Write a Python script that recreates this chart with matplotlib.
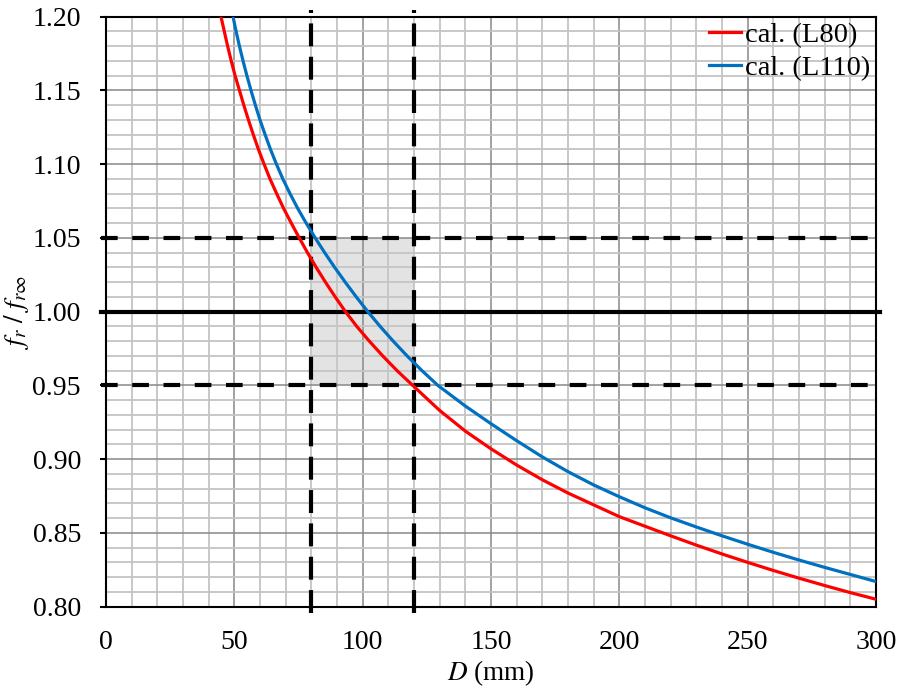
import numpy as np
import matplotlib
matplotlib.use("Agg")
import matplotlib.pyplot as plt
from matplotlib.ticker import MultipleLocator, FormatStrFormatter

plt.rcParams['font.family'] = ['Liberation Serif', 'DejaVu Serif']
plt.rcParams['mathtext.fontset'] = 'stix'

# curva calculada L80
d_l80 = [44.8, 46.1, 47.4, 48.8, 50.3, 52.0, 53.7, 55.5, 57.4, 59.4, 61.6,
         63.9, 66.5, 69.2, 72.2, 75.3, 78.5, 81.9, 85.5, 89.3, 93.3,
         97.7, 102.6, 107.8, 113.4, 119.5, 130.0, 140.0, 150.0, 160.0, 170.0,
         180.0, 190.0, 200.0, 210.0, 220.0, 230.0, 240.0, 250.0, 260.0, 270.0,
         280.0, 290.0, 300.0]
f_l80 = [1.20, 1.19, 1.18, 1.17, 1.16, 1.15, 1.14, 1.13, 1.12, 1.11, 1.10,
         1.09, 1.08, 1.07, 1.06, 1.05, 1.04, 1.03, 1.02, 1.01, 1.00,
         0.99, 0.98, 0.97, 0.96, 0.95, 0.933, 0.919, 0.907, 0.896, 0.886,
         0.877, 0.869, 0.861, 0.8545, 0.848, 0.8417, 0.8357, 0.830, 0.8245, 0.8193,
         0.8143, 0.8095, 0.805]

# curva calculada L110
d_l110 = [49.5, 50.7, 52.0, 53.4, 54.9, 56.5, 58.2, 60.0, 62.0, 64.1, 66.4,
          68.9, 71.7, 74.7, 78.0, 81.5, 85.2, 89.1, 93.2, 97.5, 102.0,
          106.8, 111.9, 117.3, 123.1, 129.3, 140.0, 150.0, 160.0, 170.0, 180.0,
          190.0, 200.0, 210.0, 220.0, 230.0, 240.0, 250.0, 260.0, 270.0, 280.0,
          290.0, 300.0]
f_l110 = [1.20, 1.19, 1.18, 1.17, 1.16, 1.15, 1.14, 1.13, 1.12, 1.11, 1.10,
          1.09, 1.08, 1.07, 1.06, 1.05, 1.04, 1.03, 1.02, 1.01, 1.00,
          0.99, 0.98, 0.97, 0.96, 0.95, 0.936, 0.924, 0.9125, 0.9015, 0.8915,
          0.8825, 0.8745, 0.867, 0.8602, 0.854, 0.848, 0.8423, 0.8368, 0.8316, 0.8266,
          0.8218, 0.817]

# zona de tolerancia
d_band = [80, 120]
f_band = [0.95, 1.05]
f_ref = 1.00

fig = plt.figure(figsize=(8.98, 6.87), dpi=100)
ax = fig.add_axes([0.118, 0.117, 0.8575, 0.8588])
ax.set_xlim(0, 300)
ax.set_ylim(0.80, 1.20)

ax.xaxis.set_major_locator(MultipleLocator(50))
ax.xaxis.set_minor_locator(MultipleLocator(10))
ax.yaxis.set_major_locator(MultipleLocator(0.05))
ax.yaxis.set_minor_locator(MultipleLocator(0.01))
ax.yaxis.set_major_formatter(FormatStrFormatter('%.2f'))

ax.set_axisbelow(True)
ax.grid(which='minor', color='#c4c4c4', lw=1.3)
ax.grid(which='major', color='#888888', lw=1.1)

ax.tick_params(axis='both', which='minor', length=0)
ax.tick_params(axis='x', which='major', length=0, pad=17, labelsize=20)
ax.tick_params(axis='y', which='major', length=4, width=1.5, direction='out', pad=14, labelsize=20)

for s in ax.spines.values():
    s.set_color('black')
    s.set_linewidth(1.5)

# sombreado
ax.fill_between(d_band, f_band[0], f_band[1], color='#e3e3e3', zorder=0.3, lw=0)

# lineas de referencia
for fb in f_band:
    ax.plot([-2, 301.5], [fb, fb], color='black', lw=3, dashes=(4, 3.5),
            clip_on=False, zorder=3)
ax.plot([-2, 301.5], [f_ref, f_ref], color='black', lw=3, clip_on=False, zorder=3)
for db in d_band:
    ax.plot([db, db], [0.7955, 1.2045], color='black', lw=3, dashes=(5.5, 2.5),
            clip_on=False, zorder=3)

ax.plot(d_l80, f_l80, color='#ff0000', lw=2.3, label='cal. (L80)', zorder=4)
ax.plot(d_l110, f_l110, color='#0070c0', lw=2.3, label='cal. (L110)', zorder=4)

ax.legend(loc='upper right', frameon=False, fontsize=20.5, handlelength=1.1,
          handletextpad=0.15, labelspacing=0.25, borderaxespad=0.0, borderpad=0.2)

ax.set_xlabel(r'$D$ (mm)', fontsize=19.5, labelpad=2)
ax.set_ylabel(r'$f_r\ /\ f_{r\infty}$', fontsize=19.5, labelpad=1)

fig.savefig('out.png', dpi=100)
